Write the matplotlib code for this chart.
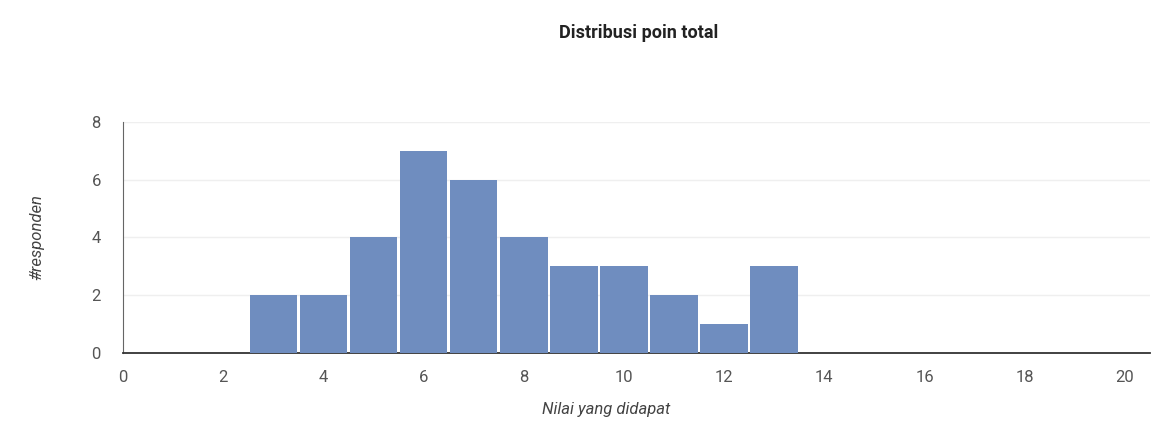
import matplotlib
matplotlib.use("Agg")
import matplotlib.pyplot as plt

scores = [3, 4, 5, 6, 7, 8, 9, 10, 11, 12, 13]
counts = [2, 2, 4, 7, 6, 4, 3, 3, 2, 1, 3]
xticks = [0, 2, 4, 6, 8, 10, 12, 14, 16, 18, 20]
yticks = [0, 2, 4, 6, 8]

plt.rcParams['font.family'] = ['Roboto', 'DejaVu Sans']

fig = plt.figure(figsize=(11.63, 4.29), dpi=100)
ax = fig.add_axes([0.1058, 0.177, 0.883, 0.539])

ax.bar(scores, counts, width=0.95, color='#6f8dbf', edgecolor='none', zorder=3)

ax.set_xlim(0, 20.5)
ax.set_ylim(0, 8)
ax.set_xticks(xticks)
ax.set_yticks(yticks)
ax.tick_params(length=0, labelsize=12, colors='#555555')
ax.tick_params(axis='x', pad=12)
ax.tick_params(axis='y', pad=16)
ax.yaxis.grid(True, color='#efefef', linewidth=1, zorder=0)
for s in ['top', 'right']:
    ax.spines[s].set_visible(False)
ax.spines['left'].set_color('#666666')
ax.spines['bottom'].set_color('#333333')
ax.spines['bottom'].set_linewidth(1.3)

ax.set_xlabel('Nilai yang didapat', fontsize=12, style='italic', color='#444444')
ax.xaxis.set_label_coords(0.47, -0.21)
ax.set_ylabel('#responden', fontsize=12, style='italic', color='#444444')
ax.yaxis.set_label_coords(-0.077, 0.5)

fig.text(0.549, 0.923, 'Distribusi poin total', ha='center', va='center',
         fontsize=13, fontweight='bold', color='#222222')

fig.savefig('out.png', dpi=100)
